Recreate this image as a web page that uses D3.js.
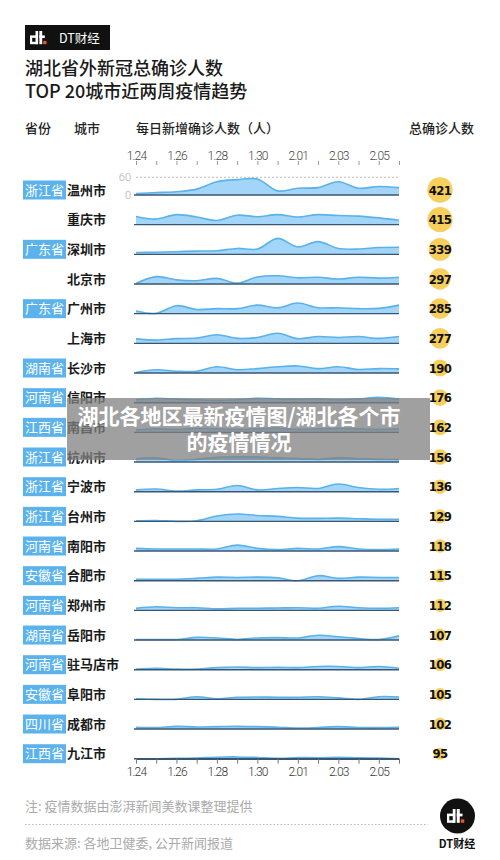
<!DOCTYPE html>
<html><head><meta charset="utf-8">
<script src="https://cdn.jsdelivr.net/npm/d3@7"></script>
<style>
html,body{margin:0;padding:0;background:#fff;}
svg{display:block;font-family:"Noto Sans CJK SC","Noto Sans",sans-serif;}
</style></head>
<body><svg id="c" width="500" height="860"></svg>
<script>
// ---------- data ----------
const provinces = ["浙江省","","广东省","","广东省","","湖南省","河南省","江西省","浙江省","浙江省","浙江省","河南省","安徽省","河南省","湖南省","河南省","安徽省","四川省","江西省"];
const cities = ["温州市","重庆市","深圳市","北京市","广州市","上海市","长沙市","信阳市","南昌市","杭州市","宁波市","台州市","南阳市","合肥市","郑州市","岳阳市","驻马店市","阜阳市","成都市","九江市"];
const totals = [421,415,339,297,285,277,190,176,162,156,136,129,118,115,112,107,106,105,102,95];
const dates = ["1.24","1.25","1.26","1.27","1.28","1.29","1.30","1.31","2.01","2.02","2.03","2.04","2.05","2.06"];
const tickLabels = ["1.24","1.26","1.28","1.30","2.01","2.03","2.05"];
const scaleTicks = [0,60];

const wenzhou   = [5,8,11,20,45,52,54,14,23,25,45,23,29,25];
const chongqing = [28,19,34,26,14,32,27,34,26,34,31,29,23,15];
const shenzhen  = [6,7,9,11,12,20,18,54,25,43,20,18,23,24];
const beijing   = [2,25,14,11,19,3,24,28,21,23,17,23,20,23];
const guangzhou = [9,1,27,14,17,17,29,20,36,20,20,17,18,29];
const shanghai  = [15,11,16,18,29,17,20,34,16,23,20,23,17,23];
const changsha  = [2,11,6,6,21,11,15,21,24,15,21,12,15,14];
const xinyang   = [10,15,12,10,8,10,15,13,12,13,10,13,18,12];
const nanchang  = [8,12,10,14,12,10,12,14,10,12,14,12,10,12];
const hangzhou  = [11,14,5,9,16,18,17,14,12,9,14,11,9,8];
const ningbo    = [6,9,2,6,8,21,6,11,14,11,26,14,8,11];
const taizhou   = [2,3,0,2,18,25,20,17,11,10,11,9,7,7];
const nanyang   = [9,7,7,7,7,20,9,5,9,7,15,7,5,7];
const hefei     = [5,5,5,8,12,11,12,10,0,17,8,12,11,11];
const zhengzhou = [7,12,9,9,5,7,7,8,9,7,14,9,7,9];
const yueyang   = [2,2,2,9,7,2,7,8,7,16,11,5,2,14];
const zhumadian = [2,5,2,2,7,9,7,8,7,11,11,7,11,5];
const fuyang    = [2,0,0,9,2,7,8,7,7,9,5,0,9,8];
const chengdu   = [6,5,9,7,8,9,8,6,3,5,8,5,5,6];
const jiujiang  = [0,0,1,2,5,6,4,1,4,3,5,3,2,0];
const dailySeries = [wenzhou,chongqing,shenzhen,beijing,guangzhou,shanghai,changsha,xinyang,nanchang,hangzhou,ningbo,taizhou,nanyang,hefei,zhengzhou,yueyang,zhumadian,fuyang,chengdu,jiujiang];

// ---------- drawing ----------
const svg = d3.select("#c");
const x = d3.scalePoint().domain(dates).range([136, 399]);
const row = d3.scalePoint().domain(cities).range([195, 758.7]);
const h = d3.scaleLinear().domain([0,60]).range([0,17.7]);
const bubble = d3.scaleSqrt().domain([0,421]).range([0,12.7]);

// header logo
const logo = svg.append("g");
logo.append("rect").attr("x",25).attr("y",25).attr("width",85).attr("height",25).attr("fill","#111");
function dtMark(g, ox, oy, s, col){
  g.append("rect").attr("x",ox).attr("y",oy+4*s).attr("width",7*s).attr("height",8*s).attr("fill",col);
  g.append("rect").attr("x",ox+5*s).attr("y",oy).attr("width",2.4*s).attr("height",12*s).attr("fill",col);
  g.append("rect").attr("x",ox+2*s).attr("y",oy+6.2*s).attr("width",3*s).attr("height",3.6*s).attr("fill","#111");
  g.append("rect").attr("x",ox+8.5*s).attr("y",oy).attr("width",2.6*s).attr("height",12*s).attr("fill",col);
  g.append("rect").attr("x",ox+8.5*s).attr("y",oy+4*s).attr("width",5*s).attr("height",2.4*s).attr("fill",col);
  g.append("rect").attr("x",ox+12*s).attr("y",oy+9*s).attr("width",3*s).attr("height",3*s).attr("fill","#e8572b");
}
dtMark(logo, 30, 31, 1.1, "#fff");
logo.append("text").attr("x",59).attr("y",42.5).attr("fill","#fff").attr("font-size",12.5).text("DT财经");

// title
svg.append("text").attr("x",25).attr("y",75).attr("font-size",18).attr("font-weight",500).attr("fill","#1a1a1a").text("湖北省外新冠总确诊人数");
svg.append("text").attr("x",25).attr("y",97.5).attr("font-size",18).attr("font-weight",500).attr("fill","#1a1a1a").text("TOP 20城市近两周疫情趋势");

// column headers
const hdr = svg.append("g").attr("font-size",13).attr("font-weight",500).attr("fill","#222");
hdr.append("text").attr("x",25).attr("y",133).text("省份");
hdr.append("text").attr("x",74).attr("y",133).text("城市");
hdr.append("text").attr("x",136).attr("y",133).text("每日新增确诊人数（人）");
hdr.append("text").attr("x",474).attr("y",133).attr("text-anchor","end").text("总确诊人数");

// top axis
const topAxis = d3.axisTop(x).tickSize(4).tickFormat(d => tickLabels.includes(d) ? d : "");
const ta = svg.append("g").attr("transform","translate(0,165)").call(topAxis);
ta.select(".domain").remove();
ta.selectAll(".tick line").attr("stroke","#999");
ta.selectAll(".tick text").attr("y",-5).attr("font-size",12).attr("fill","#444").attr("letter-spacing",-0.8)
  .attr("font-family","Roboto, 'Liberation Sans Narrow', sans-serif").attr("font-weight",300);

// 60 reference
const b0 = row(cities[0]);
svg.append("line").attr("x1",136).attr("x2",399).attr("y1",b0-h(60)).attr("y2",b0-h(60))
  .attr("stroke","#bbb").attr("stroke-dasharray","2,2").attr("stroke-width",1);
svg.selectAll(".sc").data(scaleTicks).join("text").attr("class","sc")
  .attr("x",131).attr("y",d => b0-h(d)+4).attr("text-anchor","end").attr("font-size",11)
  .attr("fill","#aaa").attr("font-family","Roboto, sans-serif").attr("font-weight",300).text(d => d);

// rows
const area = d3.area().x((d,i)=>x(dates[i])).y0(0).y1(d=>-h(d)).curve(d3.curveCatmullRom.alpha(0.5));
const line = d3.line().x((d,i)=>x(dates[i])).y(d=>-h(d)).curve(d3.curveCatmullRom.alpha(0.5));

cities.forEach((c,i) => {
  const g = svg.append("g").attr("transform",`translate(0,${row(c)})`);
  g.append("path").datum(dailySeries[i]).attr("d",area).attr("fill","#a3d5f8");
  g.append("path").datum(dailySeries[i]).attr("d",line).attr("fill","none").attr("stroke","#5ab2ea").attr("stroke-width",1.6);
  g.append("line").attr("x1",134).attr("x2",399).attr("y1",0).attr("y2",0).attr("stroke","#3b5670").attr("stroke-width",1.4);
  const cy = -5;
  if (provinces[i]) {
    g.append("rect").attr("x",23).attr("y",cy-9.5).attr("width",43).attr("height",19).attr("fill","#5cb3ec");
    g.append("text").attr("x",44.5).attr("y",cy+4.5).attr("text-anchor","middle").attr("font-size",13)
      .attr("fill","#fff").text(provinces[i]);
  }
  g.append("text").attr("x",67).attr("y",cy+4.5).attr("font-size",13).attr("font-weight",700)
    .attr("fill","#1a1a1a").text(c);
  g.append("circle").attr("cx",440).attr("cy",cy).attr("r",bubble(totals[i])).attr("fill","#f6cf5d");
  g.append("text").attr("x",440).attr("y",cy+4.5).attr("text-anchor","middle").attr("font-size",13)
    .attr("font-weight",700).attr("fill","#111").attr("letter-spacing",-0.6)
    .attr("font-family","'Liberation Sans Narrow','DejaVu Sans Condensed',Roboto,sans-serif").text(totals[i]);
});

// bottom axis
const botAxis = d3.axisBottom(x).tickSize(5).tickSizeOuter(0).tickFormat(d => tickLabels.includes(d) ? d : "");
const ba = svg.append("g").attr("transform",`translate(0,${row(cities[cities.length-1])})`).call(botAxis);
ba.select(".domain").attr("stroke","#3b5670").attr("stroke-width",1.4);
ba.selectAll(".tick line").attr("stroke","#777");
ba.selectAll(".tick text").attr("y",9).attr("font-size",12).attr("fill","#333").attr("letter-spacing",-0.8)
  .attr("font-family","Roboto, sans-serif").attr("font-weight",300);

// footer
svg.append("text").attr("x",25).attr("y",811).attr("font-size",13).attr("fill","#aaa").text("注: 疫情数据由澎湃新闻美数课整理提供");
svg.append("line").attr("x1",25).attr("x2",428).attr("y1",824.5).attr("y2",824.5).attr("stroke","#bbb").attr("stroke-dasharray","1.5,2");
svg.append("text").attr("x",25).attr("y",848).attr("font-size",13).attr("fill","#aaa").text("数据来源: 各地卫健委, 公开新闻报道");
const fl = svg.append("g");
fl.append("circle").attr("cx",457.5).attr("cy",816).attr("r",17.5).attr("fill","#111");
dtMark(fl, 447, 809, 1.15, "#fff");
fl.append("text").attr("x",457).attr("y",848).attr("text-anchor","middle").attr("font-size",11).attr("font-weight",700).attr("fill","#111").text("DT财经");

// overlay caption
svg.append("rect").attr("x",67).attr("y",398).attr("width",363).attr("height",62).attr("fill","#808080").attr("opacity",0.75);
svg.append("text").attr("x",239).attr("y",424).attr("text-anchor","middle").attr("font-size",21).attr("font-weight",700).attr("fill","#fff").text("湖北各地区最新疫情图/湖北各个市");
svg.append("text").attr("x",239).attr("y",450).attr("text-anchor","middle").attr("font-size",21).attr("font-weight",700).attr("fill","#fff").text("的疫情情况");
</script></body></html>
